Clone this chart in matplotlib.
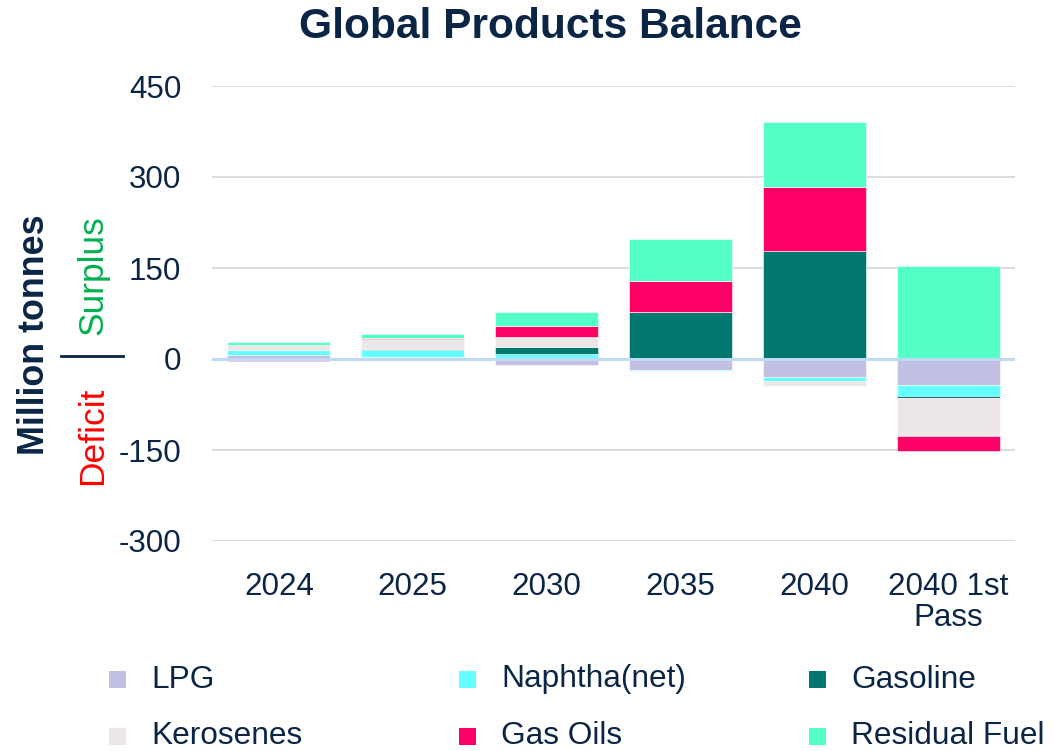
import matplotlib
matplotlib.use("Agg")
import matplotlib.pyplot as plt
from matplotlib.patches import Rectangle
from matplotlib.lines import Line2D
import numpy as np

plt.rcParams['font.family'] = ['Liberation Sans', 'DejaVu Sans']

# Balance by product (million tonnes); positive = surplus, negative = deficit
categories = ['2024', '2025', '2030', '2035', '2040', '2040 1st\nPass']
lpg = [6.5, 4, -10, -18, -30, -43]
naphtha = [9, 11, 8, -2.5, -7, -18]
gasoline = [0, 1, 12, 78, 178, -3]
kerosenes = [8, 17, 17, 0, -7, -63]
gas_oils = [-4, 1.5, 17, 50, 105, -24]
residual_fuel = [4, 6.5, 24, 70, 107, 153]

series_names = ['LPG', 'Naphtha(net)', 'Gasoline', 'Kerosenes', 'Gas Oils', 'Residual Fuel']
series_values = [lpg, naphtha, gasoline, kerosenes, gas_oils, residual_fuel]
colors = ['#C3C0E6', '#66FFFF', '#00786F', '#ECE7E6', '#FF0066', '#55FFC8']

y_ticks = [-300, -150, 0, 150, 300, 450]

navy = '#0B2545'

fig = plt.figure(figsize=(10.53, 7.51), dpi=100)
ax = fig.add_axes([212 / 1053, 1 - 541 / 751, (1015 - 212) / 1053, (541 - 86) / 751])

x = np.arange(len(categories))
pos_bottom = np.zeros(len(categories))
neg_bottom = np.zeros(len(categories))
for name, vals, col in zip(series_names, series_values, colors):
    v = np.array(vals, dtype=float)
    bottom = np.where(v >= 0, pos_bottom, neg_bottom)
    ax.bar(x, v, 0.77, bottom=bottom, color=col, edgecolor='white',
           linewidth=0.4, zorder=2, label=name)
    pos_bottom += np.where(v >= 0, v, 0)
    neg_bottom += np.where(v < 0, v, 0)

ax.set_xlim(-0.5, len(categories) - 0.5)
ax.set_ylim(-300, 450)
ax.set_yticks(y_ticks)
ax.set_yticklabels([str(t) for t in y_ticks])
ax.set_xticks(x)
ax.set_xticklabels(categories, linespacing=1.05)

for t in y_ticks:
    if t != 0:
        ax.axhline(t, color='#D9D9D9', linewidth=1.3, zorder=1)
ax.axhline(0, color='#BFDAF5', linewidth=2.2, zorder=4)

for s in ax.spines.values():
    s.set_visible(False)
ax.tick_params(axis='both', length=0, labelsize=22.6, labelcolor=navy)
ax.tick_params(axis='y', pad=22)
ax.tick_params(axis='x', pad=22)

# Title
fig.text(550 / 1053, 1 - 27 / 751, 'Global Products Balance', ha='center', va='center',
         fontsize=30.6, fontweight='bold', color=navy)

# Axis titles
fig.text(35 / 1053, 1 - 335 / 751, 'Million tonnes', rotation=90, ha='center', va='center',
         fontsize=25.8, fontweight='bold', color=navy)
fig.text(93 / 1053, 1 - 275 / 751, 'Surplus', rotation=90, ha='center', va='center',
         fontsize=25.5, color='#00B050')
fig.text(93 / 1053, 1 - 436 / 751, 'Deficit', rotation=90, ha='center', va='center',
         fontsize=25.5, color='#FF0000')
fig.add_artist(Line2D([61 / 1053, 123 / 1053], [1 - 356 / 751, 1 - 356 / 751],
                      transform=fig.transFigure, color=navy, linewidth=2))

# Legend: two rows of three
col_x = [109, 459, 809]
row_y = [679.5, 736.5]
for i, (name, col) in enumerate(zip(series_names, colors)):
    r, c = divmod(i, 3)
    x0 = col_x[c]
    yc = row_y[r]
    fig.add_artist(Rectangle((x0 / 1053, 1 - (yc + 8.5) / 751), 17 / 1053, 17 / 751,
                             transform=fig.transFigure, facecolor=col, edgecolor='none'))
    fig.text((x0 + 42) / 1053, 1 - yc / 751, name, ha='left', va='center',
             fontsize=22.8, color=navy)

fig.savefig('out.png', dpi=100)
